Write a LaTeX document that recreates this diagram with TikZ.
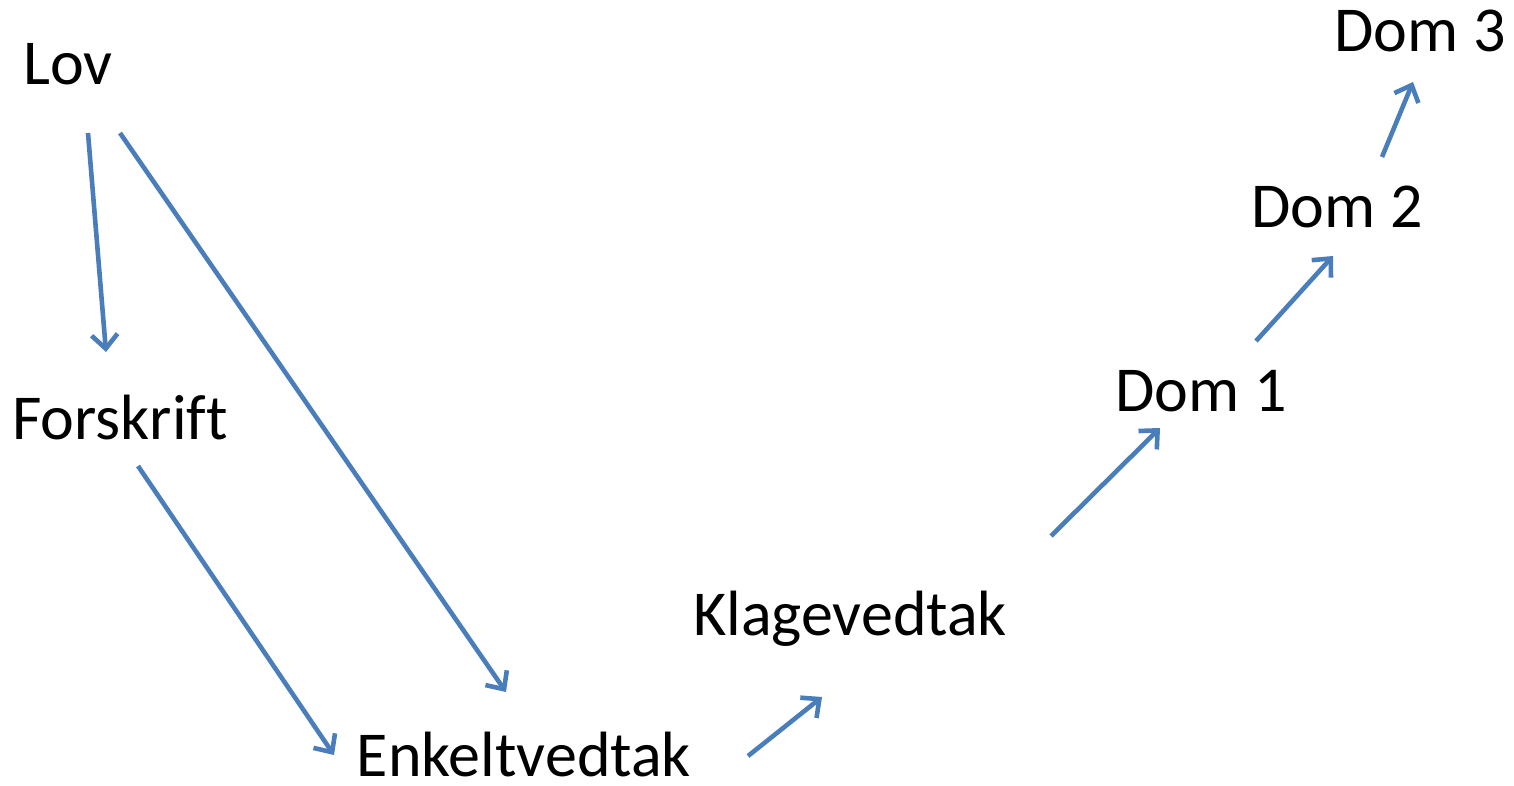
\documentclass[tikz,border=0pt]{standalone}
\usepackage{fontspec}
\setmainfont[Ligatures={NoCommon}]{Carlito}
\usetikzlibrary{arrows.meta}
\definecolor{arrowblue}{HTML}{4A7EBB}
\begin{document}
\begin{tikzpicture}[x=1pt,y=-1pt,
  lbl/.style={anchor=base,inner sep=0pt,font=\fontsize{64}{76}\selectfont},
  conn/.style={draw=arrowblue,line width=4.6pt,-{Straight Barb[length=14pt,width=26pt]}}]
\useasboundingbox (0,0) rectangle (1514,786);
\node[lbl] (lov) at (68,85) {Lov};
\node[lbl] (forskrift) at (120,439) {Forskrift};
\node[lbl] (enkelt) at (524,776) {Enkeltvedtak};
\node[lbl] (klage) at (850,635) {Klagevedtak};
\node[lbl] (dom1) at (1201,411) {Dom 1};
\node[lbl] (dom2) at (1337,228) {Dom 2};
\node[lbl] (dom3) at (1420,52) {Dom 3};
\coordinate (a1s) at (88,133); \coordinate (a1e) at (106,352);
\coordinate (a2s) at (120,133); \coordinate (a2e) at (506,692);
\coordinate (a3s) at (138,466); \coordinate (a3e) at (334,755);
\coordinate (a4s) at (748,756); \coordinate (a4e) at (822,697);
\coordinate (a5s) at (1051,536); \coordinate (a5e) at (1160,428);
\coordinate (a6s) at (1256,341); \coordinate (a6e) at (1333,256);
\coordinate (a7s) at (1382,157); \coordinate (a7e) at (1413,82);
\draw[conn] (a1s) -- (a1e);
\draw[conn] (a2s) -- (a2e);
\draw[conn] (a3s) -- (a3e);
\draw[conn] (a4s) -- (a4e);
\draw[conn] (a5s) -- (a5e);
\draw[conn] (a6s) -- (a6e);
\draw[conn] (a7s) -- (a7e);
\end{tikzpicture}
\end{document}
